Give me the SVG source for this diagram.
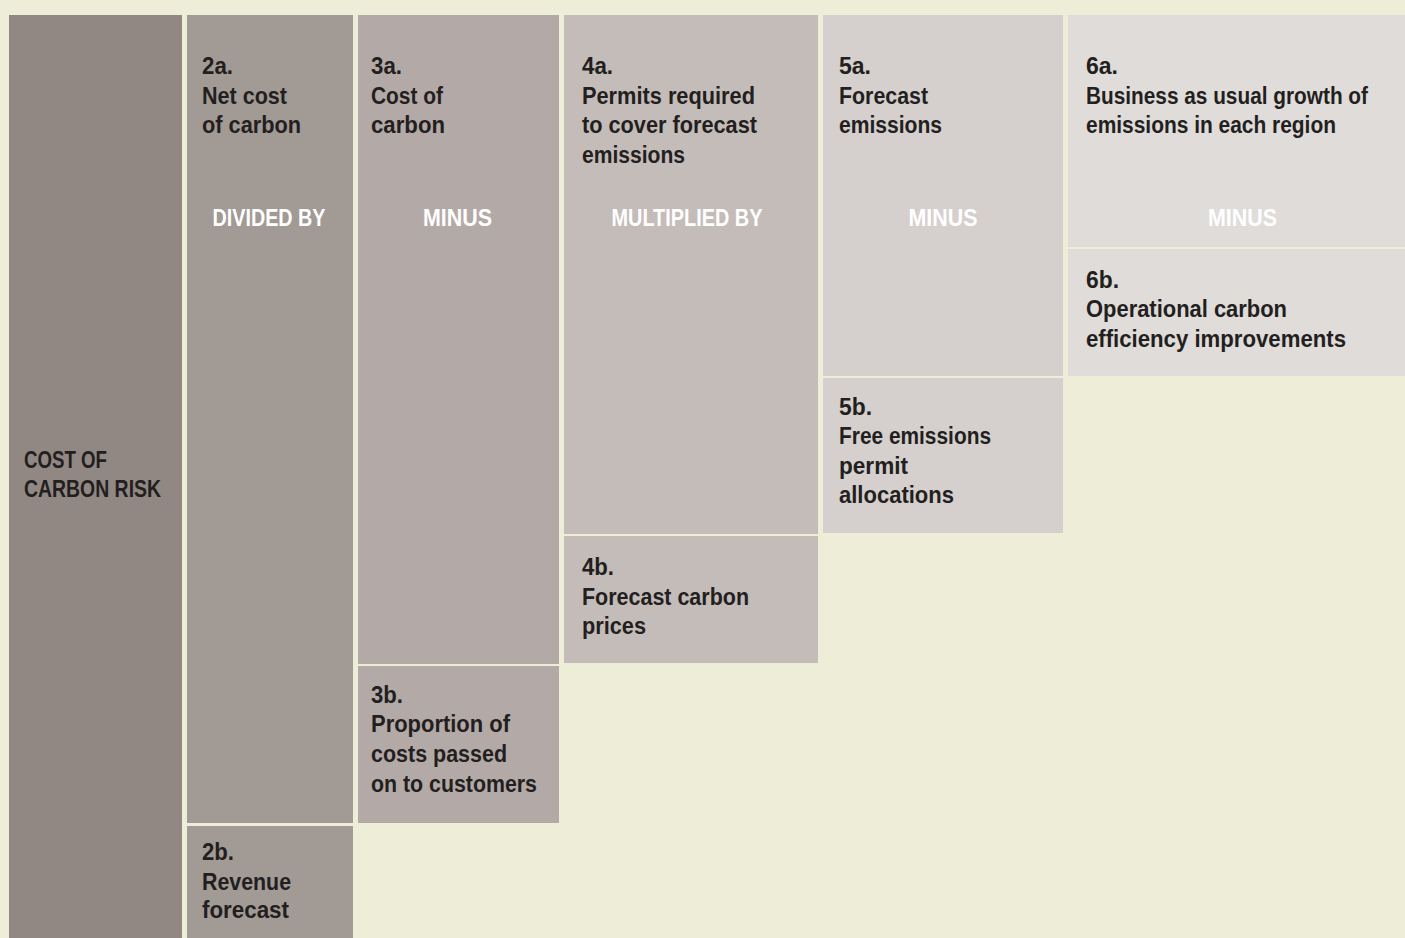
<svg xmlns="http://www.w3.org/2000/svg" width="1405" height="938" viewBox="0 0 1405 938">
  <style>
    .lbl { font-family: "Liberation Sans", Arial, sans-serif; font-weight: bold; font-size: 23px; fill: #231f20; }
    .op { font-family: "Liberation Sans", Arial, sans-serif; font-weight: bold; font-size: 23px; fill: #ffffff; text-anchor: middle; }
    .c1 { fill: #918883; }
    .c2 { fill: #a29a95; }
    .c3 { fill: #b3aaa7; }
    .c4 { fill: #c4bcb9; }
    .c5 { fill: #d5d0cd; }
    .c6 { fill: #e0dcd9; }
  </style>

  <!-- page background -->
  <rect x="0" y="0" width="1405" height="938" fill="#eeedd7"/>

  <!-- 1: total -->
  <g id="node-cost-of-carbon-risk">
    <rect class="c1" x="9" y="15" width="173" height="923"/>
    <text class="lbl" x="24" y="468" textLength="83" lengthAdjust="spacingAndGlyphs">COST OF</text>
    <text class="lbl" x="24" y="497" textLength="137" lengthAdjust="spacingAndGlyphs">CARBON RISK</text>
  </g>

  <!-- column 2 -->
  <g id="node-2a">
    <rect class="c2" x="187" y="15" width="166" height="808"/>
    <text class="lbl" x="202" y="74" textLength="31" lengthAdjust="spacingAndGlyphs">2a.</text>
    <text class="lbl" x="202" y="104" textLength="85" lengthAdjust="spacingAndGlyphs">Net cost</text>
    <text class="lbl" x="202" y="133" textLength="99" lengthAdjust="spacingAndGlyphs">of carbon</text>
    <text class="op" x="269" y="226" textLength="113" lengthAdjust="spacingAndGlyphs">DIVIDED BY</text>
  </g>
  <g id="node-2b">
    <rect class="c2" x="187" y="826" width="166" height="112"/>
    <text class="lbl" x="202" y="860" textLength="32" lengthAdjust="spacingAndGlyphs">2b.</text>
    <text class="lbl" x="202" y="890" textLength="89" lengthAdjust="spacingAndGlyphs">Revenue</text>
    <text class="lbl" x="202" y="918" textLength="87" lengthAdjust="spacingAndGlyphs">forecast</text>
  </g>

  <!-- column 3 -->
  <g id="node-3a">
    <rect class="c3" x="358" y="15" width="201" height="649"/>
    <text class="lbl" x="371" y="74" textLength="31" lengthAdjust="spacingAndGlyphs">3a.</text>
    <text class="lbl" x="371" y="104" textLength="72" lengthAdjust="spacingAndGlyphs">Cost of</text>
    <text class="lbl" x="371" y="133" textLength="74" lengthAdjust="spacingAndGlyphs">carbon</text>
    <text class="op" x="457.5" y="226" textLength="69" lengthAdjust="spacingAndGlyphs">MINUS</text>
  </g>
  <g id="node-3b">
    <rect class="c3" x="358" y="666" width="201" height="157"/>
    <text class="lbl" x="371" y="703" textLength="32" lengthAdjust="spacingAndGlyphs">3b.</text>
    <text class="lbl" x="371" y="732" textLength="139" lengthAdjust="spacingAndGlyphs">Proportion of</text>
    <text class="lbl" x="371" y="762" textLength="136" lengthAdjust="spacingAndGlyphs">costs passed</text>
    <text class="lbl" x="371" y="792" textLength="166" lengthAdjust="spacingAndGlyphs">on to customers</text>
  </g>

  <!-- column 4 -->
  <g id="node-4a">
    <rect class="c4" x="564" y="15" width="254" height="519"/>
    <text class="lbl" x="582" y="74" textLength="31" lengthAdjust="spacingAndGlyphs">4a.</text>
    <text class="lbl" x="582" y="104" textLength="173" lengthAdjust="spacingAndGlyphs">Permits required</text>
    <text class="lbl" x="582" y="133" textLength="175" lengthAdjust="spacingAndGlyphs">to cover forecast</text>
    <text class="lbl" x="582" y="163" textLength="103" lengthAdjust="spacingAndGlyphs">emissions</text>
    <text class="op" x="687" y="226" textLength="151" lengthAdjust="spacingAndGlyphs">MULTIPLIED BY</text>
  </g>
  <g id="node-4b">
    <rect class="c4" x="564" y="536" width="254" height="127"/>
    <text class="lbl" x="582" y="575" textLength="32" lengthAdjust="spacingAndGlyphs">4b.</text>
    <text class="lbl" x="582" y="605" textLength="167" lengthAdjust="spacingAndGlyphs">Forecast carbon</text>
    <text class="lbl" x="582" y="634" textLength="64" lengthAdjust="spacingAndGlyphs">prices</text>
  </g>

  <!-- column 5 -->
  <g id="node-5a">
    <rect class="c5" x="823" y="15" width="240" height="361"/>
    <text class="lbl" x="839" y="74" textLength="32" lengthAdjust="spacingAndGlyphs">5a.</text>
    <text class="lbl" x="839" y="104" textLength="89" lengthAdjust="spacingAndGlyphs">Forecast</text>
    <text class="lbl" x="839" y="133" textLength="103" lengthAdjust="spacingAndGlyphs">emissions</text>
    <text class="op" x="943" y="226" textLength="69" lengthAdjust="spacingAndGlyphs">MINUS</text>
  </g>
  <g id="node-5b">
    <rect class="c5" x="823" y="378" width="240" height="155"/>
    <text class="lbl" x="839" y="415" textLength="33" lengthAdjust="spacingAndGlyphs">5b.</text>
    <text class="lbl" x="839" y="444" textLength="152" lengthAdjust="spacingAndGlyphs">Free emissions</text>
    <text class="lbl" x="839" y="474" textLength="69" lengthAdjust="spacingAndGlyphs">permit</text>
    <text class="lbl" x="839" y="503" textLength="115" lengthAdjust="spacingAndGlyphs">allocations</text>
  </g>

  <!-- column 6 -->
  <g id="node-6a">
    <rect class="c6" x="1068" y="15" width="337" height="232"/>
    <text class="lbl" x="1086" y="74" textLength="32" lengthAdjust="spacingAndGlyphs">6a.</text>
    <text class="lbl" x="1086" y="104" textLength="282" lengthAdjust="spacingAndGlyphs">Business as usual growth of</text>
    <text class="lbl" x="1086" y="133" textLength="250" lengthAdjust="spacingAndGlyphs">emissions in each region</text>
    <text class="op" x="1242.5" y="226" textLength="69" lengthAdjust="spacingAndGlyphs">MINUS</text>
  </g>
  <g id="node-6b">
    <rect class="c6" x="1068" y="249" width="337" height="127"/>
    <text class="lbl" x="1086" y="288" textLength="33" lengthAdjust="spacingAndGlyphs">6b.</text>
    <text class="lbl" x="1086" y="317" textLength="201" lengthAdjust="spacingAndGlyphs">Operational carbon</text>
    <text class="lbl" x="1086" y="347" textLength="260" lengthAdjust="spacingAndGlyphs">efficiency improvements</text>
  </g>
</svg>
